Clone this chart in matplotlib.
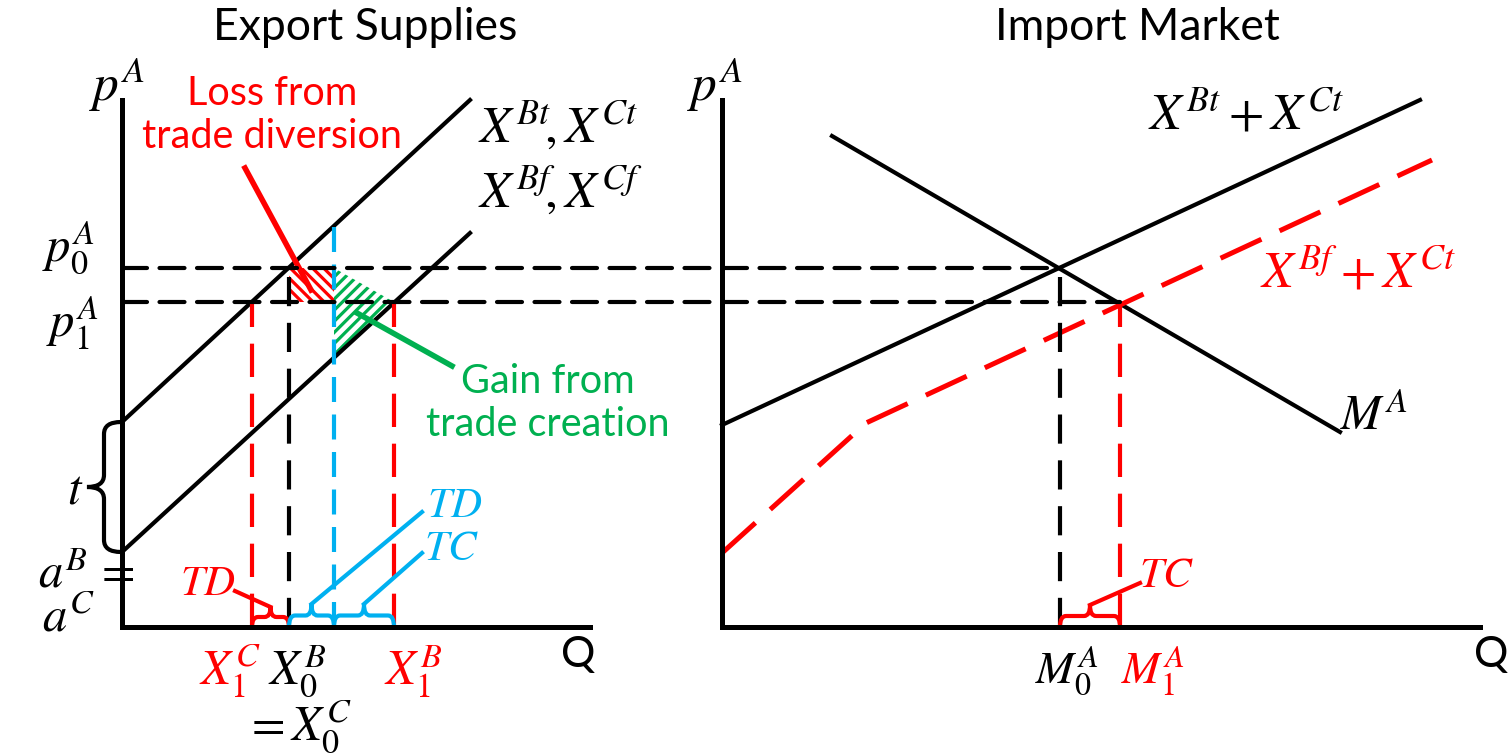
import matplotlib
matplotlib.use("Agg")
import matplotlib.pyplot as plt
from matplotlib.path import Path
from matplotlib.patches import PathPatch, Polygon, ConnectionPatch

plt.rcParams['mathtext.fontset'] = 'stix'
plt.rcParams['font.family'] = ['Lato', 'DejaVu Sans']
plt.rcParams['hatch.linewidth'] = 2.3

RED = '#FF0000'
GREEN = '#00B050'
BLUE = '#00B0F0'

# Left panel: export supplies (Q, p^A)
left_q_max = 46.8
p_max = 52.7
tariff_supply_q = [0, 34.8]
tariff_supply_p = [20.5, 52.7]
free_supply_q = [0, 34.8]
free_supply_p = [7.5, 39.4]
p0 = 35.9
p1 = 32.5
x1_c = 13.0
x0_b = 16.7
q_blue = 21.2
blue_top = 40.0
x1_b = 27.2
gain_bottom = 27.0

# Right panel: import market (M, p^A)
right_q_max = 75.8
demand_m = [11.0, 61.8]
demand_p = [49.1, 19.5]
tariff_sum_m = [0, 69.8]
tariff_sum_p = [20.2, 52.7]
free_sum_m = [0, 14.4, 71.0]
free_sum_p = [7.4, 20.4, 46.7]
m0 = 33.8
m1 = 39.8

MATH = 37
AXM = 35
LW = 3.0
DASH = (0, (6, 3))


def hbrace(ax, x0, x1, y, h, r, color):
    xm = (x0 + x1) / 2
    verts = [(x0, y), (x0, y + h / 2), (x0 + r, y + h / 2), (xm - r, y + h / 2),
             (xm, y + h / 2), (xm, y + h), (xm, y + h / 2), (xm + r, y + h / 2),
             (x1 - r, y + h / 2), (x1, y + h / 2), (x1, y)]
    codes = [Path.MOVETO, Path.CURVE3, Path.CURVE3, Path.LINETO, Path.CURVE3, Path.CURVE3,
             Path.CURVE3, Path.CURVE3, Path.LINETO, Path.CURVE3, Path.CURVE3]
    ax.add_patch(PathPatch(Path(verts, codes), fill=False, edgecolor=color, lw=LW,
                           clip_on=False, zorder=5))
    return xm, y + h


def vbrace(ax, x, y0, y1, w, r, color):
    ym = (y0 + y1) / 2
    verts = [(x, y0), (x + w / 2, y0), (x + w / 2, y0 + r), (x + w / 2, ym - r),
             (x + w / 2, ym), (x + w, ym), (x + w / 2, ym), (x + w / 2, ym + r),
             (x + w / 2, y1 - r), (x + w / 2, y1), (x, y1)]
    codes = [Path.MOVETO, Path.CURVE3, Path.CURVE3, Path.LINETO, Path.CURVE3, Path.CURVE3,
             Path.CURVE3, Path.CURVE3, Path.LINETO, Path.CURVE3, Path.CURVE3]
    ax.add_patch(PathPatch(Path(verts, codes), fill=False, edgecolor=color, lw=LW,
                           clip_on=False, zorder=5))


def setup(ax, qmax):
    ax.set_xlim(0, qmax)
    ax.set_ylim(0, p_max)
    ax.set_xticks([])
    ax.set_yticks([])
    for s in ['top', 'right']:
        ax.spines[s].set_visible(False)
    for s in ['left', 'bottom']:
        ax.spines[s].set_linewidth(3.6)
        ax.spines[s].set_zorder(6)
    ax.patch.set_alpha(0)


fig = plt.figure(figsize=(15.08, 7.54), dpi=100)
ax1 = fig.add_axes([122 / 1508, 127 / 754, 468 / 1508, 527 / 754])
ax2 = fig.add_axes([722 / 1508, 127 / 754, 758 / 1508, 527 / 754])
setup(ax1, left_q_max)
setup(ax2, right_q_max)

# ---- left panel ----
ax1.plot(tariff_supply_q, tariff_supply_p, color='black', lw=LW, clip_on=False)
ax1.plot(free_supply_q, free_supply_p, color='black', lw=LW, clip_on=False)

# hatched welfare areas
ax1.add_patch(Polygon([(x0_b, p1), (q_blue, p1), (q_blue, p0), (x0_b, p0)],
                      facecolor='white', edgecolor=RED, hatch='\\\\\\', lw=0, zorder=1))
ax1.add_patch(Polygon([(q_blue, p0), (x1_b, p1), (q_blue, gain_bottom)],
                      facecolor='white', edgecolor=GREEN, hatch='///', lw=0, zorder=1))

ax1.plot([x1_c, x1_c], [0, p1], color=RED, lw=LW, ls=(0, (8, 4)))
ax1.plot([x0_b, x0_b], [0, p0], color='black', lw=LW, ls=(0, (7, 4)))
ax1.plot([q_blue, q_blue], [0, blue_top], color=BLUE, lw=LW, ls=DASH)
ax1.plot([x1_b, x1_b], [0, p1], color=RED, lw=LW, ls=(0, (8, 4)))

# dashed price lines across both panels
for p, m in [(p0, m0), (p1, m1)]:
    con = ConnectionPatch(xyA=(0, p), coordsA=ax1.transData, xyB=(m, p), coordsB=ax2.transData,
                          color='black', lw=LW, linestyle=DASH, zorder=2)
    fig.add_artist(con)

# braces
vbrace(ax1, -0.1, free_supply_p[0], tariff_supply_p[0], -3.4, 1.2, 'black')
tip_td = hbrace(ax1, x1_c, x0_b, 0, 2.0, 0.6, RED)
tip_b1 = hbrace(ax1, x0_b, q_blue, 0, 2.3, 0.6, BLUE)
tip_b2 = hbrace(ax1, q_blue, x1_b, 0, 2.3, 0.6, BLUE)
ax1.plot([tip_td[0], 11.3], [tip_td[1], 3.6], color=RED, lw=LW, clip_on=False)
ax1.plot([tip_b1[0], 30.0], [tip_b1[1], 11.5], color=BLUE, lw=LW, clip_on=False)
ax1.plot([tip_b2[0], 30.0], [tip_b2[1], 7.4], color=BLUE, lw=LW, clip_on=False)

# annotation leaders
ax1.plot([12.3, 18.9], [45.9, 33.7], color=RED, lw=4, clip_on=False)
ax1.plot([23.5, 33.0], [31.4, 26.1], color=GREEN, lw=4, clip_on=False)

# left texts
ax1.text(24.3, 59.9, 'Export Supplies', fontsize=32, ha='center', va='center')
ax1.text(-0.5, 54.2, r'$p^A$', fontsize=MATH, ha='center', va='center')
ax1.text(15.0, 51.2, 'Loss from\ntrade diversion', fontsize=28.5, color=RED,
         ha='center', va='center', linespacing=1.22)
ax1.text(42.6, 22.4, 'Gain from\ntrade creation', fontsize=28.5, color=GREEN,
         ha='center', va='center', linespacing=1.22)
ax1.text(35.6, 48.4, r'$X^{Bt}\!, X^{Ct}$', fontsize=MATH, ha='left', va='baseline')
ax1.text(35.6, 41.9, r'$X^{Bf}\!, X^{Cf}$', fontsize=MATH, ha='left', va='baseline')
ax1.text(-5.4, 36.5, r'$p_0^A$', fontsize=AXM, ha='center', va='baseline')
ax1.text(-5.0, 29.0, r'$p_1^A$', fontsize=AXM, ha='center', va='baseline')
ax1.text(-4.7, 13.7, r'$t$', fontsize=AXM, ha='center', va='center')
ax1.text(-8.4, 4.0, r'$a^B\,=$', fontsize=AXM, ha='left', va='baseline')
ax1.text(-8.0, -0.5, r'$a^C$', fontsize=AXM, ha='left', va='baseline')
ax1.text(8.6, 4.4, r'$TD$', fontsize=31, color=RED, ha='center', va='center')
ax1.text(33.3, 12.2, r'$TD$', fontsize=31, color=BLUE, ha='center', va='center')
ax1.text(33.0, 7.9, r'$TC$', fontsize=31, color=BLUE, ha='center', va='center')
ax1.text(10.8, -5.8, r'$X_1^C$', fontsize=AXM, color=RED, ha='center', va='baseline')
ax1.text(17.5, -5.8, r'$X_0^B$', fontsize=AXM, ha='center', va='baseline')
ax1.text(17.6, -11.3, r'$= X_0^C$', fontsize=AXM, ha='center', va='baseline')
ax1.text(29.1, -5.8, r'$X_1^B$', fontsize=AXM, color=RED, ha='center', va='baseline')
ax1.text(45.6, -2.8, 'Q', fontsize=31, ha='center', va='center')

# ---- right panel ----
ax2.plot(demand_m, demand_p, color='black', lw=LW, clip_on=False)
ax2.plot(tariff_sum_m, tariff_sum_p, color='black', lw=LW, clip_on=False)
ax2.plot(free_sum_m, free_sum_p, color=RED, lw=3.6, ls=(0, (9, 4)), clip_on=False)
ax2.plot([m0, m0], [0, p0], color='black', lw=LW, ls=(0, (7, 4)))
ax2.plot([m1, m1], [0, p1], color=RED, lw=LW, ls=(0, (8, 4)))

tip_tc = hbrace(ax2, m0, m1, 0, 2.2, 0.6, RED)
ax2.plot([tip_tc[0], 41.8], [tip_tc[1], 4.4], color=RED, lw=LW, clip_on=False)

ax2.text(41.5, 59.9, 'Import Market', fontsize=32, ha='center', va='center')
ax2.text(-0.7, 54.2, r'$p^A$', fontsize=MATH, ha='center', va='center')
ax2.text(42.6, 49.7, r'$X^{Bt} + X^{Ct}$', fontsize=MATH, ha='left', va='baseline')
ax2.text(53.8, 33.9, r'$X^{Bf} + X^{Ct}$', fontsize=MATH, color=RED, ha='left', va='baseline')
ax2.text(61.8, 19.7, r'$M^A$', fontsize=AXM, ha='left', va='baseline')
ax2.text(34.5, -5.6, r'$M_0^A$', fontsize=33, ha='center', va='baseline')
ax2.text(43.1, -5.6, r'$M_1^A$', fontsize=33, color=RED, ha='center', va='baseline')
ax2.text(44.5, 5.2, r'$TC$', fontsize=31, color=RED, ha='center', va='center')
ax2.text(76.9, -2.8, 'Q', fontsize=31, ha='center', va='center')

fig.savefig('out.png', dpi=100)
